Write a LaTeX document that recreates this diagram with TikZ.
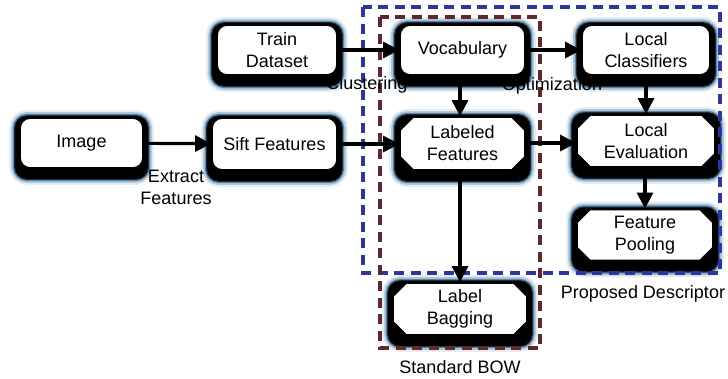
\documentclass[tikz,border=0pt]{standalone}
\usepackage{fontspec}
\setmainfont{Liberation Sans}
\usetikzlibrary{arrows.meta,shapes.misc,backgrounds,calc}

\definecolor{glowA}{RGB}{228,237,244}
\definecolor{glowB}{RGB}{175,200,218}
\definecolor{glowC}{RGB}{95,130,158}
\definecolor{glowD}{RGB}{25,45,65}
\definecolor{bluedash}{RGB}{45,55,155}
\definecolor{browndash}{RGB}{95,40,45}

\tikzset{
  txt/.style={font=\fontsize{18}{22}\selectfont, align=center},
  roundbox/.style={txt, draw=black, line width=1.8pt, fill=white,
    rounded corners=10pt, inner sep=0pt},
  chambox/.style={txt, draw=black, line width=1.8pt, fill=white,
    chamfered rectangle, chamfered rectangle xsep=6.5pt,
    chamfered rectangle ysep=6.5pt, inner sep=0pt},
  arr/.style={line width=3.2pt, -{Triangle[length=16pt,width=16pt]}},
  lbl/.style={txt},
  region/.style={line width=3.2pt, dash pattern=on 10pt off 6.5pt},
}

\begin{document}
\begin{tikzpicture}[x=1pt,y=-1pt]
\useasboundingbox (0,0) rectangle (728,378);

% grouping frames
\draw[region, bluedash] (363,7) rectangle (720,273);
\draw[region, browndash] (380,17) rectangle (540,348);

% process boxes
\node[roundbox, minimum width=123pt, minimum height=50pt] (img)   at (81.5,143)  {Image};
\node[roundbox, minimum width=120pt, minimum height=50pt] (train) at (277,50)    {Train\\Dataset};
\node[roundbox, minimum width=125pt, minimum height=52pt] (sift)  at (274.5,144) {Sift Features};
\node[roundbox, minimum width=125pt, minimum height=50pt] (vocab) at (462.5,50)  {Vocabulary};
\node[roundbox, minimum width=128pt, minimum height=50pt] (lcls)  at (646,50)    {Local\\Classifiers};
\node[chambox,  minimum width=125pt, minimum height=53pt] (lfeat) at (462.5,143.5) {Labeled\\Features};
\node[chambox,  minimum width=138pt, minimum height=52pt] (leval) at (646,141)   {Local\\Evaluation};
\node[chambox,  minimum width=136pt, minimum height=50pt] (fpool) at (645,235)   {Feature\\Pooling};
\node[chambox,  minimum width=134pt, minimum height=52pt] (lbag)  at (460,309)   {Label\\Bagging};

% heavy shadow with a soft blue halo behind every box
\begin{scope}[on background layer]
  \foreach \n in {img,train,sift,vocab,lcls,lfeat,leval,fpool,lbag}{
    \coordinate (nw) at ($(\n.west |- \n.north)+(-4,-1)$);
    \coordinate (se) at ($(\n.east |- \n.south)+(4,10)$);
    \draw[glowA, line width=12pt, rounded corners=12pt] (nw) rectangle (se);
    \draw[glowB, line width=8pt,  rounded corners=12pt] (nw) rectangle (se);
    \draw[glowC, line width=4.5pt,rounded corners=12pt] (nw) rectangle (se);
    \draw[glowD, line width=2pt,  rounded corners=12pt] (nw) rectangle (se);
    \fill[black, rounded corners=12pt] (nw) rectangle (se);
  }
\end{scope}

% flow
\draw[arr] (img) -- (sift);
\draw[arr] (train) -- (vocab);
\draw[arr] (vocab) -- (lcls);
\draw[arr] (sift.east) -- (sift.east -| lfeat.west);
\draw[arr] (vocab.south -| lfeat.north) ++(-2.5,0) coordinate (vs) -- (vs |- lfeat.north);
\draw[arr] (lfeat.east |- 0,143) -- (leval.west |- 0,143);
\draw[arr] (lcls.south) -- (lcls.south |- leval.north);
\draw[arr] (leval.south -| fpool.north) -- (fpool.north);
\draw[arr] (lfeat.south -| lbag.north) -- (lbag.north);

% labels
\node[lbl] (extract) at (176,187) {Extract\\Features};
\node[lbl] (clust)   at (367,85)  {Clustering};
\node[lbl] (optim)   at (552,86)  {Optimization};
\node[lbl] (propd)   at (643,294) {Proposed Descriptor};
\node[lbl] (stdbow)  at (460,367) {Standard BOW};
\end{tikzpicture}
\end{document}
